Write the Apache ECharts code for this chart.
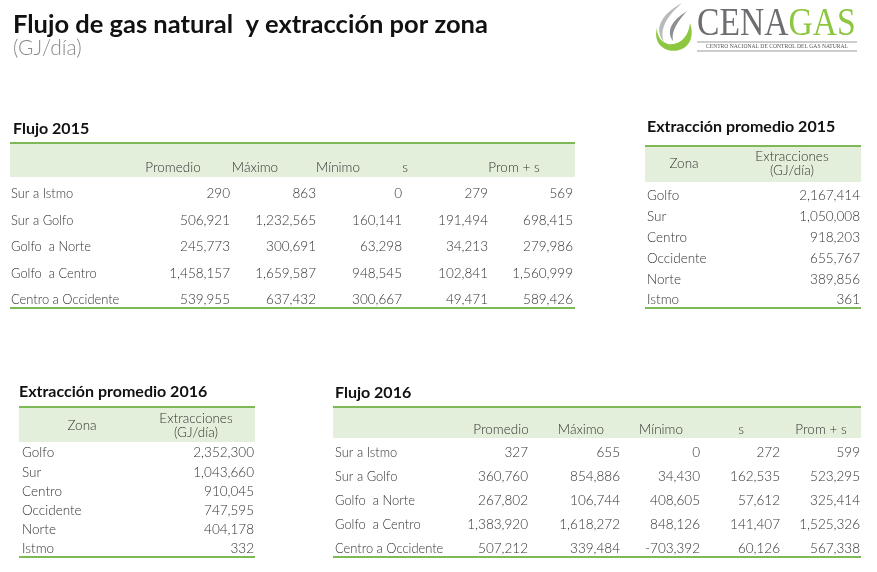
<!DOCTYPE html>
<html>
<head>
<meta charset="utf-8">
<script src="https://cdn.jsdelivr.net/npm/echarts@6/dist/echarts.min.js"></script>
<style>
html,body{margin:0;padding:0;background:#fff;}
#main{width:877px;height:572px;}
</style>
</head>
<body>
<div id="main"></div>
<script type="text/javascript">
// datos
var flujoHeaders = ['Promedio', 'Máximo', 'Mínimo', 's', 'Prom + s'];
var flujoRutas = ['Sur a Istmo', 'Sur a Golfo', 'Golfo  a Norte', 'Golfo  a Centro', 'Centro a Occidente'];

var flujo2015Promedio = [290, 506921, 245773, 1458157, 539955];
var flujo2015Maximo = [863, 1232565, 300691, 1659587, 637432];
var flujo2015Minimo = [0, 160141, 63298, 948545, 300667];
var flujo2015S = [279, 191494, 34213, 102841, 49471];
var flujo2015PromS = [569, 698415, 279986, 1560999, 589426];

var flujo2016Promedio = [327, 360760, 267802, 1383920, 507212];
var flujo2016Maximo = [655, 854886, 106744, 1618272, 339484];
var flujo2016Minimo = [0, 34430, 408605, 848126, -703392];
var flujo2016S = [272, 162535, 57612, 141407, 60126];
var flujo2016PromS = [599, 523295, 325414, 1525326, 567338];

var zonas = ['Golfo', 'Sur', 'Centro', 'Occidente', 'Norte', 'Istmo'];
var extraccion2015 = [2167414, 1050008, 918203, 655767, 389856, 361];
var extraccion2016 = [2352300, 1043660, 910045, 747595, 404178, 332];

var GREEN = '#7db956';
var BAND = '#e3efda';
var TXT = '#333333';
var FONT = 'Lato, "Open Sans", sans-serif';
var BOLD = 'Lato, "Open Sans", sans-serif';

// formas del logo
echarts.graphic.registerShape('llama1', echarts.graphic.extendPath('M682,3 C662,14 653,28 664,42 C659,29 667,16 682,3 Z'));
echarts.graphic.registerShape('llama2', echarts.graphic.extendPath('M687,11 C671,21 666,31 673,41 C671,31 678,21 687,11 Z'));
echarts.graphic.registerShape('gota', echarts.graphic.extendPath('M657,28 C652,46 669,55 682,49 C691,45 694,34 690,23 C689,36 680,46 668,44 C661,42 657,36 657,28 Z'));

var myChart = echarts.init(document.getElementById('main'));
var els = [];

function fmt(v) {
    return v.toLocaleString('en-US');
}
function txt(x, y, s, o) {
    o = o || {};
    els.push({
        type: 'text', x: x, y: y, silent: true,
        style: {
            text: s,
            fill: o.fill || TXT,
            fontSize: o.size || 13.5,
            fontFamily: o.family || FONT,
            fontWeight: o.weight || 300,
            align: o.align || 'left',
            verticalAlign: 'middle'
        }
    });
}
function hline(x1, x2, y) {
    els.push({ type: 'line', silent: true, shape: { x1: x1, y1: y, x2: x2, y2: y }, style: { stroke: GREEN, lineWidth: 2 } });
}
function band(x1, x2, y1, y2) {
    els.push({ type: 'rect', silent: true, shape: { x: x1, y: y1, width: x2 - x1, height: y2 - y1 }, style: { fill: BAND } });
}

// tabla de flujos
function flujoTable(title, cols, L) {
    txt(L.titleX, L.titleY, title, { size: 16, weight: 'bold', family: BOLD, fill: '#111' });
    band(L.x1, L.x2, L.top, L.bandBottom);
    hline(L.x1, L.x2, L.top);
    for (var c = 0; c < flujoHeaders.length; c++) {
        txt(L.headX[c], L.headY, flujoHeaders[c], { align: 'center' });
    }
    for (var r = 0; r < flujoRutas.length; r++) {
        var y = L.row0 + r * L.step;
        txt(L.labelX, y, flujoRutas[r], { size: 12.9 });
        for (var k = 0; k < cols.length; k++) {
            txt(L.colX[k], y, fmt(cols[k][r]), { align: 'right' });
        }
    }
    hline(L.x1, L.x2, L.bottom);
}

// tabla de extraccion
function extrTable(title, vals, L) {
    txt(L.titleX, L.titleY, title, { size: 16, weight: 'bold', family: BOLD, fill: '#111' });
    band(L.x1, L.x2, L.top, L.bandBottom);
    hline(L.x1, L.x2, L.top);
    txt(L.zonaX, L.zonaY, 'Zona', { align: 'center' });
    txt(L.extX, L.zonaY - 7, 'Extracciones', { align: 'center' });
    txt(L.extX, L.zonaY + 7, '(GJ/día)', { align: 'center' });
    for (var r = 0; r < zonas.length; r++) {
        var y = L.row0 + r * L.step;
        txt(L.labelX, y, zonas[r]);
        txt(L.valX, y, fmt(vals[r]), { align: 'right' });
    }
    hline(L.x1, L.x2, L.bottom);
}

// encabezado
txt(13, 25, 'Flujo de gas natural  y extracción por zona', { size: 25.5, weight: 'bold', family: BOLD, fill: '#111' });
txt(13, 48, '(GJ/día)', { size: 21, fill: '#8a8a8a' });

// logo
els.push({ type: 'llama1', silent: true, style: { fill: '#b9babc' } });
els.push({ type: 'llama2', silent: true, style: { fill: '#8e8f92' } });
els.push({ type: 'gota', silent: true, style: { fill: '#8dc63f' } });
els.push({
    type: 'text', x: 697, y: 24, silent: true, scaleX: 0.84,
    style: {
        text: '{a|CENA}{b|GAS}', verticalAlign: 'middle',
        rich: {
            a: { fontSize: 40, fontFamily: '"Liberation Serif", serif', fill: '#6d6e71' },
            b: { fontSize: 40, fontFamily: '"Liberation Serif", serif', fill: '#8dc63f' }
        }
    }
});
els.push({ type: 'line', silent: true, shape: { x1: 697, y1: 42, x2: 857, y2: 42 }, style: { stroke: '#9a9b9d', lineWidth: 1 } });
els.push({ type: 'line', silent: true, shape: { x1: 697, y1: 51, x2: 857, y2: 51 }, style: { stroke: '#9a9b9d', lineWidth: 1 } });
txt(777, 46.5, 'CENTRO NACIONAL DE CONTROL DEL GAS NATURAL', { size: 5.6, family: '"Liberation Serif", serif', fill: '#555', align: 'center', weight: 'normal' });

flujoTable('Flujo 2015',
    [flujo2015Promedio, flujo2015Maximo, flujo2015Minimo, flujo2015S, flujo2015PromS],
    { titleX: 13, titleY: 129, x1: 10, x2: 575, top: 143, bandBottom: 177, headY: 168,
      headX: [173, 255, 338, 405, 514], colX: [230, 316, 402, 488, 573],
      labelX: 11, row0: 194, step: 26.5, bottom: 308 });

extrTable('Extracción promedio 2015', extraccion2015,
    { titleX: 647, titleY: 127, x1: 645, x2: 861, top: 146, bandBottom: 182,
      zonaX: 684, zonaY: 164, extX: 792, labelX: 647, valX: 860,
      row0: 196, step: 20.8, bottom: 308 });

extrTable('Extracción promedio 2016', extraccion2016,
    { titleX: 19, titleY: 392, x1: 19, x2: 255, top: 407, bandBottom: 442,
      zonaX: 82, zonaY: 426, extX: 196, labelX: 22, valX: 254,
      row0: 453, step: 19.2, bottom: 557 });

flujoTable('Flujo 2016',
    [flujo2016Promedio, flujo2016Maximo, flujo2016Minimo, flujo2016S, flujo2016PromS],
    { titleX: 335, titleY: 393, x1: 333, x2: 861, top: 407, bandBottom: 438, headY: 430,
      headX: [501, 581, 661, 741, 821], colX: [528, 620, 700, 780, 860],
      labelX: 335, row0: 453, step: 24, bottom: 557 });

myChart.setOption({
    animation: false,
    graphic: { elements: els }
});
</script>
</body>
</html>
